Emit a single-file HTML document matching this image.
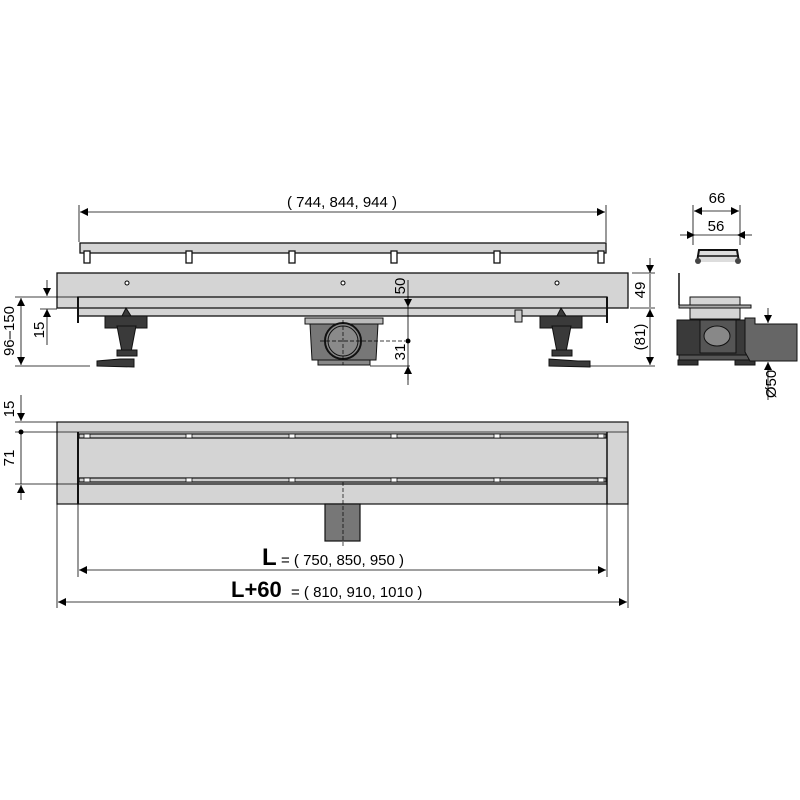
<!DOCTYPE html>
<html><head><style>html,body{margin:0;padding:0;background:#fff;width:800px;height:800px;overflow:hidden}</style></head><body>
<svg width="800" height="800" viewBox="0 0 800 800" xmlns="http://www.w3.org/2000/svg" font-family="Liberation Sans, DejaVu Sans, sans-serif">
<defs>
<marker id="a" viewBox="0 0 10 10" refX="10" refY="5" markerWidth="10" markerHeight="8" orient="auto-start-reverse" markerUnits="userSpaceOnUse"><path d="M0,0L10,5L0,10z" fill="#000"/></marker>
</defs>
<g stroke="#000" fill="none" stroke-width="0.8">
<line x1="79" y1="205" x2="79" y2="242"/><line x1="606" y1="205" x2="606" y2="242"/>
<line x1="80" y1="212" x2="605" y2="212" marker-start="url(#a)" marker-end="url(#a)"/>
</g>
<text x="342" y="207" font-size="15" text-anchor="middle">( 744, 844, 944 )</text>
<g stroke="#111" stroke-width="1.3">
<rect x="80" y="243" width="526" height="10" fill="#d4d4d4"/>
<g fill="#fff"><rect x="84" y="251" width="6" height="12"/><rect x="186" y="251" width="6" height="12"/><rect x="289" y="251" width="6" height="12"/><rect x="391" y="251" width="6" height="12"/><rect x="494" y="251" width="6" height="12"/><rect x="598" y="251" width="6" height="12"/></g>
<rect x="57" y="273" width="571" height="35" fill="#d4d4d4"/>
<rect x="78" y="297" width="529" height="19" fill="#d4d4d4"/>
<line x1="78" y1="308" x2="607" y2="308"/>
<line x1="78" y1="297" x2="78" y2="323" stroke-width="2"/><line x1="607" y1="297" x2="607" y2="323" stroke-width="2"/>
</g>
<g fill="#fff" stroke="#000" stroke-width="1"><circle cx="127" cy="283" r="2"/><circle cx="343" cy="283" r="2"/><circle cx="557" cy="283" r="2"/></g>
<g fill="#3a3a3a" stroke="#111" stroke-width="1">
<rect x="105" y="316" width="42" height="12"/><path d="M117,326L136,326L131,352L122,352z"/><rect x="117" y="350" width="20" height="6"/><path d="M97,366L97,361L120,359L134,359L134,367z"/><path d="M122,316L126,308L131,316z"/>
<rect x="540" y="316" width="42" height="12"/><path d="M552,326L571,326L566,352L557,352z"/><rect x="552" y="350" width="20" height="6"/><path d="M549,366L549,359L578,361L590,361L590,367z"/><path d="M557,316L561,308L566,316z"/>
<rect x="515" y="310" width="7" height="12" fill="#ccc"/>
<rect x="305" y="318" width="78" height="6" fill="#bbb"/>
<path d="M310,324L378,324L376,360L312,360z" fill="#777"/>
<rect x="318" y="360" width="52" height="5" fill="#888"/>
<circle cx="343" cy="341" r="18" fill="#888" stroke-width="2"/>
<circle cx="343" cy="341" r="15" fill="#8a8a8a"/>
</g>
<g stroke="#000" stroke-width="0.7" stroke-dasharray="4,2" fill="none"><line x1="320" y1="341" x2="405" y2="341"/><line x1="343" y1="320" x2="343" y2="365"/></g>
<g stroke="#000" stroke-width="0.8" fill="none">
<line x1="15" y1="297" x2="78" y2="297"/><line x1="15" y1="366" x2="90" y2="366"/>
<line x1="21" y1="298" x2="21" y2="365" marker-start="url(#a)" marker-end="url(#a)"/>
<line x1="47" y1="280" x2="47" y2="296" marker-end="url(#a)"/><line x1="47" y1="345" x2="47" y2="309" marker-end="url(#a)"/>
<line x1="40" y1="309" x2="57" y2="309"/>
<line x1="408" y1="296" x2="408" y2="380"/><line x1="408" y1="280" x2="408" y2="307" marker-end="url(#a)"/>
<line x1="408" y1="385" x2="408" y2="366" marker-end="url(#a)"/>
<line x1="370" y1="366" x2="410" y2="366"/>
<line x1="630" y1="308" x2="655" y2="308"/><line x1="590" y1="366" x2="655" y2="366"/>
<line x1="650" y1="258" x2="650" y2="273" marker-end="url(#a)"/><line x1="632" y1="273" x2="655" y2="273"/>
<line x1="650" y1="274" x2="650" y2="307" />
<line x1="650" y1="309" x2="650" y2="365" marker-start="url(#a)" marker-end="url(#a)"/>
</g>
<circle cx="408" cy="341" r="2.5" fill="#000"/>
<text transform="translate(14,331) rotate(-90)" font-size="15" text-anchor="middle">96–150</text>
<text transform="translate(44,330) rotate(-90)" font-size="15" text-anchor="middle">15</text>
<text transform="translate(405,286) rotate(-90)" font-size="15" text-anchor="middle">50</text>
<text transform="translate(405,352) rotate(-90)" font-size="15" text-anchor="middle">31</text>
<text transform="translate(645,290) rotate(-90)" font-size="15" text-anchor="middle">49</text>
<text transform="translate(645,337) rotate(-90)" font-size="15" text-anchor="middle">(81)</text>
<text x="717" y="203" font-size="15" text-anchor="middle">66</text>
<text x="716" y="231" font-size="15" text-anchor="middle">56</text>
<g stroke="#000" stroke-width="0.8" fill="none">
<line x1="693" y1="205" x2="693" y2="245"/><line x1="740" y1="205" x2="740" y2="245"/>
<line x1="694" y1="211" x2="739" y2="211" marker-start="url(#a)" marker-end="url(#a)"/>
<line x1="680" y1="235" x2="695" y2="235" marker-end="url(#a)"/><line x1="752" y1="235" x2="737" y2="235" marker-end="url(#a)"/>
<line x1="695" y1="235" x2="737" y2="235"/>
</g>
<path d="M697,262L699,250L737,250L739,262" fill="#ddd" stroke="#111" stroke-width="2"/>
<line x1="697" y1="256" x2="739" y2="256" stroke="#111" stroke-width="1.5"/>
<circle cx="698" cy="261" r="3" fill="#444"/><circle cx="738" cy="261" r="3" fill="#444"/>
<g stroke="#111" stroke-width="1">
<line x1="679" y1="273" x2="679" y2="305" stroke-width="1.5"/>
<rect x="690" y="297" width="50" height="22" fill="#d4d4d4"/>
<rect x="679" y="305" width="72" height="3" fill="#aaa"/>
<rect x="677" y="320" width="78" height="35" fill="#3a3a3a"/>
<rect x="700" y="320" width="36" height="33" fill="#555"/>
<ellipse cx="717" cy="336" rx="13" ry="10" fill="#888"/>
<rect x="679" y="355" width="76" height="5" fill="#555"/>
<rect x="678" y="360" width="20" height="5" fill="#333"/><rect x="735" y="360" width="20" height="5" fill="#333"/>
<path d="M745,318L755,318L755,324L797,324L797,361L750,361L745,352z" fill="#666"/>
</g>
<g stroke="#000" stroke-width="0.8" fill="none">
<line x1="768" y1="308" x2="768" y2="323" marker-end="url(#a)"/>
<line x1="768" y1="380" x2="768" y2="362" marker-end="url(#a)"/>
<line x1="768" y1="380" x2="768" y2="400"/>
</g>
<text transform="translate(776,384) rotate(-90)" font-size="15" text-anchor="middle">Ø50</text>
<g stroke="#111" stroke-width="1.2">
<rect x="57" y="422" width="571" height="82" fill="#d4d4d4"/>
<line x1="57" y1="432" x2="628" y2="432" stroke-width="0.8"/>
<line x1="78" y1="432" x2="78" y2="504" stroke-width="2"/><line x1="607" y1="432" x2="607" y2="504" stroke-width="1.5"/>
<rect x="79" y="434" width="527" height="4" fill="#ccc"/>
<rect x="79" y="478" width="527" height="4" fill="#ccc"/>
<line x1="79" y1="484" x2="607" y2="484"/>
<rect x="325" y="504" width="35" height="37" fill="#777"/>
</g>
<g fill="#fff" stroke="#111" stroke-width="0.8"><rect x="84" y="434" width="6" height="4"/><rect x="186" y="434" width="6" height="4"/><rect x="289" y="434" width="6" height="4"/><rect x="391" y="434" width="6" height="4"/><rect x="494" y="434" width="6" height="4"/><rect x="598" y="434" width="6" height="4"/>
<rect x="84" y="478" width="6" height="4"/><rect x="186" y="478" width="6" height="4"/><rect x="289" y="478" width="6" height="4"/><rect x="391" y="478" width="6" height="4"/><rect x="494" y="478" width="6" height="4"/><rect x="598" y="478" width="6" height="4"/></g>
<line x1="343" y1="482" x2="343" y2="546" stroke="#000" stroke-width="0.7" stroke-dasharray="4,2"/>
<g stroke="#000" stroke-width="0.8" fill="none">
<line x1="15" y1="422" x2="57" y2="422"/><line x1="15" y1="432" x2="57" y2="432"/><line x1="15" y1="484" x2="78" y2="484"/>
<line x1="21" y1="395" x2="21" y2="421" marker-end="url(#a)"/>
<line x1="21" y1="432" x2="21" y2="484"/>
<line x1="21" y1="500" x2="21" y2="485" marker-end="url(#a)"/>
<line x1="78" y1="504" x2="78" y2="577"/><line x1="607" y1="504" x2="607" y2="577"/>
<line x1="57" y1="504" x2="57" y2="608"/><line x1="628" y1="504" x2="628" y2="608"/>
<line x1="79" y1="570" x2="606" y2="570" marker-start="url(#a)" marker-end="url(#a)"/>
<line x1="58" y1="602" x2="627" y2="602" marker-start="url(#a)" marker-end="url(#a)"/>
</g>
<circle cx="21" cy="432" r="2.5" fill="#000"/>
<text transform="translate(14,409) rotate(-90)" font-size="15" text-anchor="middle">15</text>
<text transform="translate(14,458) rotate(-90)" font-size="15" text-anchor="middle">71</text>
<text x="262" y="565" font-size="24" font-weight="bold">L</text>
<text x="281" y="565" font-size="15">= ( 750, 850, 950 )</text>
<text x="231" y="597" font-size="22" font-weight="bold">L+60</text>
<text x="291" y="597" font-size="15">= ( 810, 910, 1010 )</text>
</svg>
</body></html>
